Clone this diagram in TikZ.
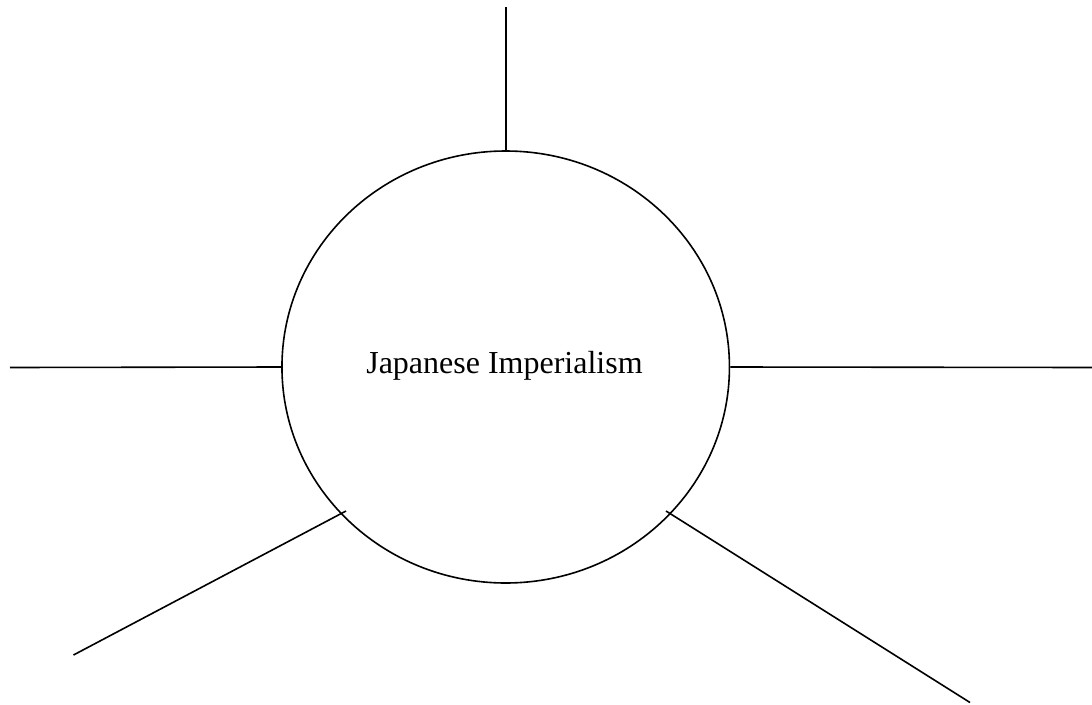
\documentclass[tikz,border=0pt]{standalone}
\usepackage{fontspec}
\setmainfont{Liberation Serif}
\tikzset{
  spoke/.style={draw=black, line width=1.6pt},
  hub/.style={draw=black, line width=1.6pt, ellipse, minimum width=447.5pt, minimum height=432pt, inner sep=0pt},
  hubtext/.style={font=\fontsize{32}{38}\selectfont, inner sep=0pt, anchor=base}
}
\usetikzlibrary{shapes.geometric}
\begin{document}
\begin{tikzpicture}[x=1pt,y=-1pt]
\useasboundingbox (0,0) rectangle (1092,704);
\node[hub] (c) at (505.7,367) {};
\node[hubtext] (t) at (504.5,373.3) {Japanese Imperialism};
\coordinate (top) at (505.7,7);
\coordinate (left) at (10,367.5);
\coordinate (right) at (1092,367.5);
\coordinate (ll) at (73.5,655);
\coordinate (llin) at (346,511);
\coordinate (lr) at (970,702.5);
\coordinate (lrin) at (666,511);
\draw[spoke] (top) -- (c.north);
\draw[spoke] (left) -- (c.west);
\draw[spoke] (right) -- (c.east);
\draw[spoke] (ll) -- (llin);
\draw[spoke] (lr) -- (lrin);
\end{tikzpicture}
\end{document}
